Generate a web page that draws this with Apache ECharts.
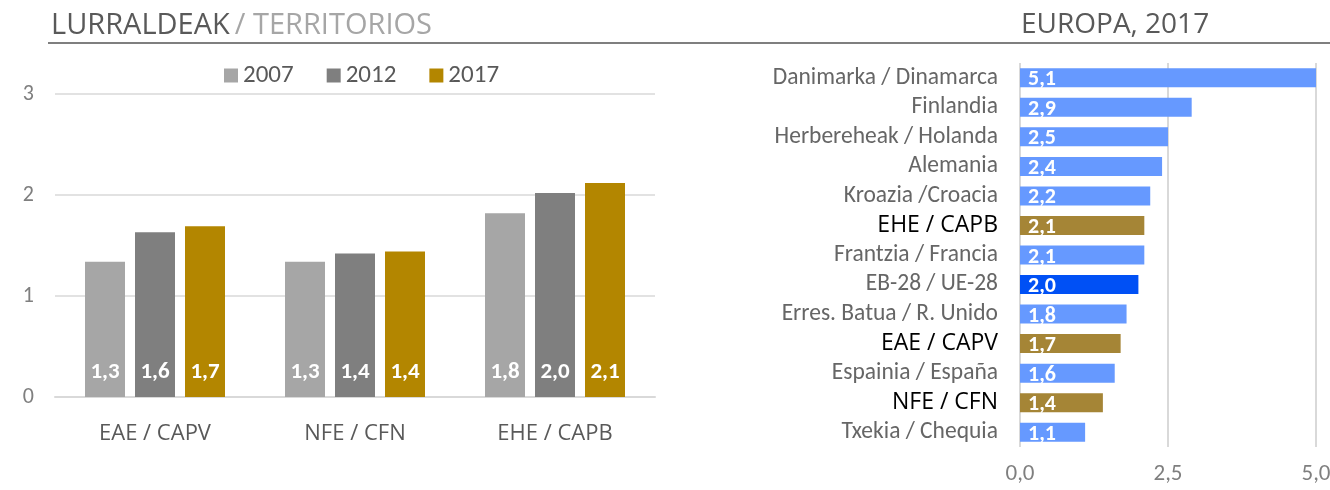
<!DOCTYPE html>
<html><head><meta charset="utf-8">
<script src="https://cdn.jsdelivr.net/npm/echarts@6/dist/echarts.min.js"></script>
<style>html,body{margin:0;padding:0;background:#fff}#c{width:1330px;height:490px}</style>
</head><body><div id="c"></div>
<script>
const territories = ['EAE / CAPV', 'NFE / CFN', 'EHE / CAPB'];
const years = ['2007', '2012', '2017'];
const v2007 = [1.34, 1.34, 1.82];
const v2012 = [1.63, 1.42, 2.02];
const v2017 = [1.69, 1.44, 2.12];
const leftTicks = [0, 1, 2, 3];

const countries = ['Danimarka / Dinamarca', 'Finlandia', 'Herbereheak / Holanda', 'Alemania', 'Kroazia /Croacia', 'EHE / CAPB', 'Frantzia / Francia', 'EB-28 / UE-28', 'Erres. Batua / R. Unido', 'EAE / CAPV', 'Espainia / España', 'NFE / CFN', 'Txekia / Chequia'];
const europeValues = [5.1, 2.9, 2.5, 2.4, 2.2, 2.1, 2.1, 2.0, 1.8, 1.7, 1.6, 1.4, 1.1];
const highlighted = ['EHE / CAPB', 'EAE / CAPV', 'NFE / CFN'];
const euTotal = 'EB-28 / UE-28';
const rightTicks = ['0,0', '2,5', '5,0'];

const geo = '"Open Sans", Lato, sans-serif';
const cal = 'Carlito, "Open Sans", "Noto Sans", sans-serif';
const fmt = v => v.toFixed(1).replace('.', ',');
const leftColors = ['#a6a6a6', '#7f7f7f', '#b38600'];

const chart = echarts.init(document.getElementById('c'), null, {renderer: 'canvas'});
const leftSeries = [v2007, v2012, v2017].map((d, i) => ({
  name: years[i], type: 'bar', xAxisIndex: 0, yAxisIndex: 0,
  data: d, barWidth: 40, barGap: '25%',
  itemStyle: {color: leftColors[i]},
  label: {show: true, position: 'insideBottom', distance: 13, color: '#fff', fontWeight: 'bold',
    fontFamily: cal, fontSize: 23, formatter: p => fmt(p.value)}
}));

chart.setOption({
  animation: false,
  title: [
    {text: '{a|LURRALDEAK} {b|/ TERRITORIOS}', left: 46, top: 6,
      textStyle: {rich: {a: {fontFamily: geo, fontSize: 29, fontWeight: 'normal', color: '#595959'},
                         b: {fontFamily: geo, fontSize: 29, fontWeight: 'normal', color: '#a6a6a6'}}}},
    {text: 'EUROPA, 2017', left: 1016, top: 6,
      textStyle: {fontFamily: geo, fontSize: 28, fontWeight: 'normal', color: '#595959'}}
  ],
  graphic: [{type: 'line', shape: {x1: 48, y1: 43, x2: 1330, y2: 43}, style: {stroke: '#7f7f7f', lineWidth: 2}}],
  legend: {data: years, left: 219, top: 58, itemWidth: 14, itemHeight: 14, itemGap: 33, icon: 'rect',
    textStyle: {fontFamily: cal, fontSize: 25, color: '#595959'}},
  grid: [
    {left: 55, right: 675, top: 94, bottom: 93, containLabel: false, outerBoundsMode: 'none'},
    {left: 1020, right: 14, top: 63, bottom: 43, containLabel: false, outerBoundsMode: 'none'}
  ],
  xAxis: [
    {type: 'category', gridIndex: 0, data: territories,
      axisLine: {lineStyle: {color: '#d9d9d9', width: 2}}, axisTick: {show: false},
      axisLabel: {interval: 0, margin: 26, fontFamily: geo, fontSize: 22, color: '#595959'}},
    {type: 'value', gridIndex: 1, min: 0, max: 5, interval: 2.5,
      axisLine: {show: false}, axisTick: {show: false},
      splitLine: {lineStyle: {color: '#d9d9d9', width: 2}},
      axisLabel: {margin: 16, fontFamily: cal, fontSize: 23, color: '#7f7f7f', hideOverlap: false,
        formatter: v => rightTicks[Math.round(v / 2.5)]}}
  ],
  yAxis: [
    {type: 'value', gridIndex: 0, min: leftTicks[0], max: leftTicks[leftTicks.length - 1], interval: 1,
      axisLine: {show: false}, axisTick: {show: false},
      splitLine: {lineStyle: {color: '#d9d9d9', width: 1.5}},
      axisLabel: {margin: 21, fontFamily: cal, fontSize: 22, color: '#7f7f7f'}},
    {type: 'category', gridIndex: 1, data: countries, inverse: true,
      axisLine: {show: false}, axisTick: {show: false},
      axisLabel: {interval: 0, margin: 22, fontSize: 23,
        formatter: v => highlighted.includes(v) ? '{h|' + v + '}' : '{n|' + v + '}',
        rich: {h: {fontFamily: geo, fontSize: 23, color: '#000', fontWeight: 500},
               n: {fontFamily: cal, fontSize: 23.5, color: '#666666'}}}}
  ],
  series: leftSeries.concat([{
    type: 'bar', xAxisIndex: 1, yAxisIndex: 1, barWidth: 19,
    data: europeValues.map((v, i) => ({value: v, itemStyle: {color:
      highlighted.includes(countries[i]) ? '#a58536' : (countries[i] === euTotal ? '#0050f5' : '#6699ff')}})),
    label: {show: true, position: 'insideLeft', offset: [3, 2], color: '#fff', fontWeight: 'bold',
      fontFamily: cal, fontSize: 22, formatter: p => fmt(p.value)}
  }])
});
</script></body></html>
